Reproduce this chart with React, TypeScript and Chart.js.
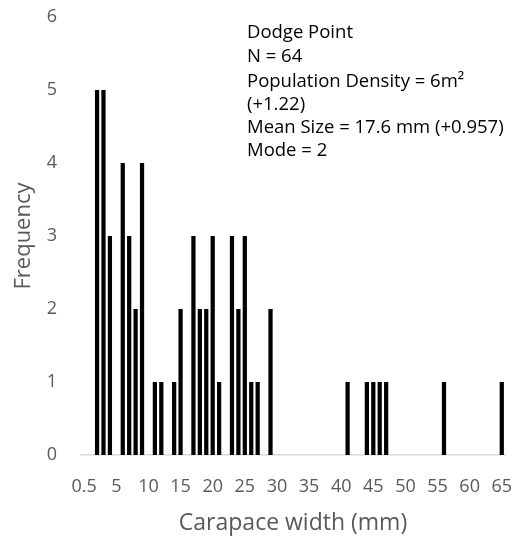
import React, { useEffect, useRef } from "react";
import { Chart, registerables } from "chart.js";

Chart.register(...registerables);

const CATEGORIES: string[] = [
  "0.5", "1", "2", "3", "4", "5", "6", "7", "8", "9", "10",
  "11", "12", "13", "14", "15", "16", "17", "18", "19", "20",
  "21", "22", "23", "24", "25", "26", "27", "28", "29", "30",
  "31", "32", "33", "34", "35", "36", "37", "38", "39", "40",
  "41", "42", "43", "44", "45", "46", "47", "48", "49", "50",
  "51", "52", "53", "54", "55", "56", "57", "58", "59", "60",
  "61", "62", "63", "64", "65",
];

const FREQUENCY: number[] = [
  0, 0, 5, 5, 3, 0, 4, 3, 2, 4, 0,
  1, 1, 0, 1, 2, 0, 3, 2, 2, 3,
  1, 0, 3, 2, 3, 1, 1, 0, 2, 0,
  0, 0, 0, 0, 0, 0, 0, 0, 0, 0,
  1, 0, 0, 1, 1, 1, 1, 0, 0, 0,
  0, 0, 0, 0, 0, 1, 0, 0, 0, 0,
  0, 0, 0, 0, 1,
];

const X_TICK_LABELS: string[] = ["0.5", "5", "10", "15", "20", "25", "30", "35", "40", "45", "50", "55", "60", "65"];
const Y_TICKS: number[] = [0, 1, 2, 3, 4, 5, 6];

const ANNOTATION_LINES: string[] = [
  "Dodge Point",
  "N = 64",
  "Population Density = 6m²",
  "(+1.22)",
  "Mean Size = 17.6 mm (+0.957)",
  "Mode = 2",
];

const X_TITLE = "Carapace width (mm)";
const Y_TITLE = "Frequency";

const FONT = "'Open Sans', Lato, sans-serif";
const GREY = "#595959";

const annotationPlugin = {
  id: "annotationText",
  afterDraw(chart: any) {
    const ctx = chart.ctx;
    ctx.save();
    ctx.font = `18.5px ${FONT}`;
    ctx.fillStyle = "#000000";
    ctx.textAlign = "left";
    ctx.textBaseline = "alphabetic";
    const baselines = [38, 62, 87, 110, 133, 156];
    ANNOTATION_LINES.forEach((line, i) => {
      ctx.fillText(line, 247, baselines[i]);
    });
    ctx.restore();
  },
};

function resetPadding(scale: any) {
  scale.paddingTop = 0;
  scale.paddingBottom = 0;
  scale.paddingLeft = 0;
  scale.paddingRight = 0;
}

export default function App() {
  const canvasRef = useRef<HTMLCanvasElement | null>(null);

  useEffect(() => {
    if (!canvasRef.current) return;
    const chart = new Chart(canvasRef.current, {
      type: "bar",
      data: {
        labels: CATEGORIES,
        datasets: [
          {
            data: FREQUENCY,
            backgroundColor: "#000000",
            borderWidth: 0,
            categoryPercentage: 1,
            barPercentage: 0.66,
          },
        ],
      },
      options: {
        animation: false,
        responsive: false,
        layout: { padding: { left: 0, top: 17, right: 8, bottom: 0 } },
        plugins: {
          legend: { display: false },
          tooltip: { enabled: false },
        },
        scales: {
          x: {
            type: "category",
            grid: { display: false, drawTicks: false },
            border: { display: true, color: "#d9d9d9", width: 1.5 },
            ticks: {
              autoSkip: false,
              maxRotation: 0,
              minRotation: 0,
              padding: 21,
              color: GREY,
              font: { family: FONT, size: 18 },
              callback: function (this: any, value: any, index: number) {
                const lbl = CATEGORIES[index];
                return X_TICK_LABELS.includes(lbl) ? lbl : "";
              },
            },
            title: {
              display: true,
              text: X_TITLE,
              color: GREY,
              font: { family: FONT, size: 23 },
              padding: { top: 0, bottom: 0 },
            },
            afterFit(scale: any) {
              scale.height = 82;
              resetPadding(scale);
            },
          },
          y: {
            min: 0,
            max: 6,
            grid: { display: false, drawTicks: false },
            border: { display: false },
            afterBuildTicks(scale: any) {
              scale.ticks = Y_TICKS.map((v) => ({ value: v }));
            },
            ticks: {
              padding: 24,
              color: GREY,
              font: { family: FONT, size: 18 },
            },
            title: {
              display: true,
              text: Y_TITLE,
              color: GREY,
              font: { family: FONT, size: 22 },
              padding: { top: 11, bottom: 0 },
            },
            afterFit(scale: any) {
              scale.width = 81;
              resetPadding(scale);
            },
          },
        },
      },
      plugins: [annotationPlugin],
    });
    return () => chart.destroy();
  }, []);

  return (
    <div style={{ position: "fixed", left: 0, top: 0, width: 513, height: 537, background: "#ffffff" }}>
      <canvas ref={canvasRef} width={513} height={537} style={{ display: "block" }} />
    </div>
  );
}
